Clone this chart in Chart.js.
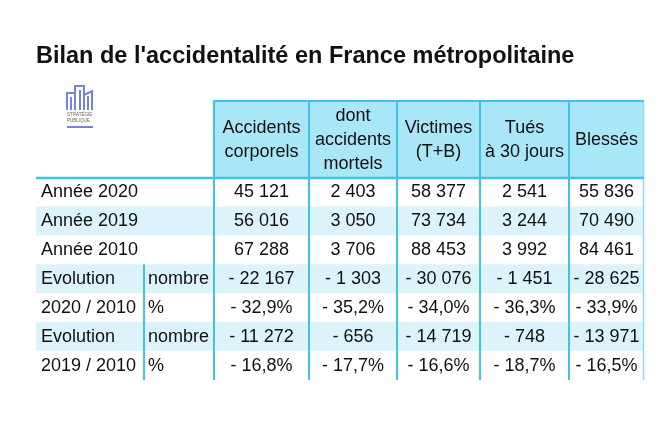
<!DOCTYPE html>
<html>
<head>
<meta charset="utf-8">
<script src="https://cdn.jsdelivr.net/npm/chart.js"></script>
<style>
  html, body { margin: 0; padding: 0; background: #fff; }
  canvas { display: block; }
</style>
</head>
<body>
<canvas id="bilan" width="660" height="440"></canvas>
<script>
// table data
const titleText = "Bilan de l'accidentalité en France métropolitaine";
const headers = [
  ['Accidents', 'corporels'],
  ['dont', 'accidents', 'mortels'],
  ['Victimes', '(T+B)'],
  ['Tués', 'à 30 jours'],
  ['Blessés']
];
const rowLabels = ['Année 2020', 'Année 2019', 'Année 2010', 'Evolution', '2020 / 2010', 'Evolution', '2019 / 2010'];
const rowUnits = ['', '', '', 'nombre', '%', 'nombre', '%'];

const accidentsCorporels = [45121, 56016, 67288, -22167, -32.9, -11272, -16.8];
const accidentsMortels = [2403, 3050, 3706, -1303, -35.2, -656, -17.7];
const victimes = [58377, 73734, 88453, -30076, -34.0, -14719, -16.6];
const tues = [2541, 3244, 3992, -1451, -36.3, -748, -18.7];
const blesses = [55836, 70490, 84461, -28625, -33.9, -13971, -16.5];
const columns = [accidentsCorporels, accidentsMortels, victimes, tues, blesses];

// layout (px units on the x scale)
const labelWidth = 178;
const unitOffset = 108;
const colWidths = [95, 88, 83, 89, 75];
const headerTop = 100;

const colEdges = [labelWidth];
colWidths.forEach(w => colEdges.push(colEdges[colEdges.length - 1] + w));
const total = colEdges[colEdges.length - 1];

const LINE = '#3fc3e7';
const HEAD = '#a8e6f8';
const BAND = '#dcf3fb';
const FONT = '"Liberation Sans", Arial, sans-serif';

function fmt(v, unit) {
  const sign = v < 0 ? '- ' : '';
  const a = Math.abs(v);
  if (unit === '%') return sign + a.toFixed(1).replace('.', ',') + '%';
  return sign + String(a).replace(/\B(?=(\d{3})+(?!\d))/g, ' ');
}

const tablePlugin = {
  id: 'table',
  afterDatasetsDraw(chart) {
    const { ctx, chartArea, scales: { x, y } } = chart;
    const rowH = (chartArea.bottom - chartArea.top) / rowLabels.length;
    const px = v => x.getPixelForValue(v);

    ctx.save();
    // header band
    ctx.fillStyle = HEAD;
    ctx.fillRect(px(colEdges[0]), headerTop, px(total) - px(colEdges[0]), chartArea.top - headerTop);

    // vertical lines
    ctx.strokeStyle = LINE;
    ctx.lineWidth = 2;
    colEdges.slice(0, -1).forEach(e => {
      ctx.beginPath();
      ctx.moveTo(px(e), headerTop);
      ctx.lineTo(px(e), chartArea.bottom);
      ctx.stroke();
    });
    ctx.strokeStyle = '#8fd8ef';
    ctx.lineWidth = 1.5;
    ctx.beginPath();
    ctx.moveTo(px(total) - 0.5, headerTop);
    ctx.lineTo(px(total) - 0.5, chartArea.bottom);
    ctx.stroke();

    // sub column line on evolution rows
    const firstEvo = rowUnits.findIndex(u => u !== '');
    ctx.strokeStyle = LINE;
    ctx.lineWidth = 2;
    ctx.beginPath();
    ctx.moveTo(px(unitOffset), y.getPixelForValue(firstEvo) - rowH / 2);
    ctx.lineTo(px(unitOffset), chartArea.bottom);
    ctx.stroke();

    // header top and bottom rules
    ctx.beginPath();
    ctx.moveTo(px(colEdges[0]), headerTop + 1);
    ctx.lineTo(px(total), headerTop + 1);
    ctx.stroke();
    ctx.lineWidth = 2.5;
    ctx.beginPath();
    ctx.moveTo(px(0), chartArea.top);
    ctx.lineTo(px(total), chartArea.top);
    ctx.stroke();

    // header text
    ctx.fillStyle = '#111';
    ctx.font = '18px ' + FONT;
    ctx.textAlign = 'center';
    ctx.textBaseline = 'middle';
    const headMid = (headerTop + chartArea.top) / 2 + 1;
    headers.forEach((lines, c) => {
      const cx = px((colEdges[c] + colEdges[c + 1]) / 2);
      lines.forEach((t, i) => {
        ctx.fillText(t, cx, headMid + (i - (lines.length - 1) / 2) * 24);
      });
    });

    // row labels
    ctx.textAlign = 'left';
    rowLabels.forEach((t, r) => {
      const cy = y.getPixelForValue(r);
      ctx.fillText(t, px(0) + 5, cy);
      if (rowUnits[r]) ctx.fillText(rowUnits[r], px(unitOffset) + 4, cy);
    });

    // cells
    ctx.textAlign = 'center';
    columns.forEach((vals, c) => {
      const cx = px((colEdges[c] + colEdges[c + 1]) / 2);
      vals.forEach((v, r) => {
        ctx.fillText(fmt(v, rowUnits[r]), cx, y.getPixelForValue(r));
      });
    });
    ctx.restore();
  },
  afterDraw(chart) {
    // small logo
    const { ctx } = chart;
    ctx.save();
    ctx.strokeStyle = '#7383de';
    ctx.lineWidth = 2;
    ctx.beginPath();
    ctx.moveTo(67, 110); ctx.lineTo(67, 93); ctx.lineTo(75, 93); ctx.lineTo(75, 110);
    ctx.moveTo(75, 93); ctx.lineTo(75, 86); ctx.lineTo(84, 86); ctx.lineTo(84, 110);
    ctx.moveTo(84, 95); ctx.lineTo(92, 91); ctx.lineTo(92, 110);
    ctx.moveTo(71, 110); ctx.lineTo(71, 97);
    ctx.moveTo(80, 110); ctx.lineTo(80, 90);
    ctx.moveTo(88, 110); ctx.lineTo(88, 96);
    ctx.stroke();
    ctx.fillStyle = '#666';
    ctx.font = '4.5px ' + FONT;
    ctx.textAlign = 'left';
    ctx.textBaseline = 'middle';
    ctx.fillText('STRATÉGIE', 67, 115);
    ctx.fillText('PUBLIQUE', 67, 121);
    ctx.fillStyle = '#7383de';
    ctx.fillRect(67, 126, 26, 2);
    ctx.restore();
  }
};

new Chart(document.getElementById('bilan'), {
  type: 'bar',
  data: {
    labels: rowLabels,
    datasets: [{
      label: 'bands',
      data: rowLabels.map(() => [0, total]),
      backgroundColor: rowLabels.map((_, i) => i % 2 ? BAND : '#ffffff'),
      borderWidth: 0,
      barPercentage: 1,
      categoryPercentage: 1
    }]
  },
  options: {
    indexAxis: 'y',
    responsive: false,
    animation: false,
    layout: { padding: { left: 36, right: 660 - 36 - total, top: 42, bottom: 60 } },
    scales: {
      x: { type: 'linear', min: 0, max: total, display: false },
      y: { type: 'category', display: false }
    },
    plugins: {
      legend: { display: false },
      tooltip: { enabled: false },
      title: {
        display: true,
        text: titleText,
        align: 'start',
        color: '#111',
        font: { family: FONT, size: 23.5, weight: 'bold', lineHeight: 1.2 },
        padding: { top: 0, bottom: 107.8 }
      }
    }
  },
  plugins: [tablePlugin]
});
</script>
</body>
</html>
